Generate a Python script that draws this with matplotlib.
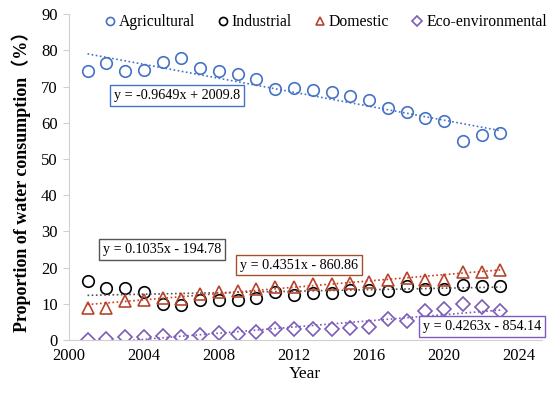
import numpy as np
import matplotlib
matplotlib.use('Agg')
import matplotlib.pyplot as plt

# Data
years = list(range(2001, 2024))
agricultural = [74.3, 76.6, 74.3, 74.7, 76.9, 77.9, 75.2, 74.2, 73.6, 72.0, 69.2, 69.7,
                69.1, 68.6, 67.5, 66.3, 64.2, 62.9, 61.2, 60.5, 55.0, 56.6, 57.3]
industrial = [16.4, 14.3, 14.3, 13.2, 9.9, 9.7, 10.9, 11.0, 10.9, 11.5, 13.2, 12.3,
              12.9, 12.9, 13.8, 13.8, 13.4, 14.9, 14.0, 14.0, 15.2, 15.0, 15.0]
domestic = [8.8, 8.8, 10.8, 11.0, 11.7, 11.3, 12.6, 13.2, 13.5, 14.1, 14.7, 14.7,
            15.4, 15.4, 15.6, 16.1, 16.6, 17.1, 16.6, 16.6, 18.9, 18.9, 19.3]
eco = [0.0, 0.2, 0.7, 0.9, 1.1, 0.9, 1.4, 1.8, 1.7, 2.3, 3.0, 3.0,
       3.0, 3.0, 3.4, 3.6, 5.7, 5.1, 8.1, 8.6, 9.9, 9.2, 8.1]

# trendline coefficients printed on the chart (slope, intercept)
trend_agri = (-0.9649, 2009.8)
trend_ind = (0.1035, -194.78)
trend_dom = (0.4351, -860.86)
trend_eco = (0.4263, -854.14)

plt.rcParams['font.family'] = ['Liberation Serif', 'Noto Sans CJK SC']

fig = plt.figure(figsize=(5.5, 3.93), dpi=100)
ax = fig.add_axes([0.125, 0.135, 0.86, 0.829])

series = [
    ('Agricultural', agricultural, trend_agri, 'o', '#4472C4', '#4472C4'),
    ('Industrial', industrial, trend_ind, 'o', 'black', '#555555'),
    ('Domestic', domestic, trend_dom, '^', '#B5452E', '#D03A20'),
    ('Eco-environmental', eco, trend_eco, 'D', '#7B5CB8', '#7B5CB8'),
]

x = np.array(years)
for name, vals, (k, b), m, col, tcol in series:
    ms = 6.8 if m == 'D' else 8.3
    ax.plot(years, vals, linestyle='none', marker=m, markersize=ms,
            markerfacecolor='none', markeredgecolor=col, markeredgewidth=1.2,
            label=name)
    ax.plot(x, k * x + b, linestyle=(0, (1, 1.5)), color=tcol, linewidth=1.2)

# equation labels
boxes = [
    ('y = -0.9649x + 2009.8', 2002.4, 67.4, '#4472C4'),
    ('y = 0.1035x - 194.78', 2001.8, 24.9, '#555555'),
    ('y = 0.4351x - 860.86', 2009.1, 20.7, '#A0522D'),
    ('y = 0.4263x - 854.14', 2018.85, 3.6, '#7B5CB8'),
]
for txt, tx, ty, col in boxes:
    ax.text(tx, ty, txt, fontsize=10.2, va='center', ha='left',
            bbox=dict(boxstyle='square,pad=0.28', facecolor='white', edgecolor=col, linewidth=1))

ax.set_xlim(2000, 2025.2)
ax.set_ylim(0, 90)
ax.set_xticks(range(2000, 2025, 4))
ax.set_yticks(range(0, 91, 10))
ax.tick_params(axis='x', length=0, labelsize=12, pad=6)
ax.tick_params(axis='y', length=4, color='#d0d0d0', labelsize=12, pad=4)

for s in ['top', 'right']:
    ax.spines[s].set_visible(False)
for s in ['left', 'bottom']:
    ax.spines[s].set_color('#d0d0d0')

ax.set_xlabel('Year', fontsize=12.5, labelpad=1)
ax.set_ylabel('Proportion of water consumption（%）', fontsize=13, fontweight='bold', labelpad=7)

leg = ax.legend(loc='center', bbox_to_anchor=(0.59, 0.944), bbox_transform=fig.transFigure,
                ncol=4, frameon=False, fontsize=11.3, handletextpad=0.05,
                columnspacing=1.3, markerscale=0.7, handlelength=1)

fig.savefig('out.png', dpi=100)
